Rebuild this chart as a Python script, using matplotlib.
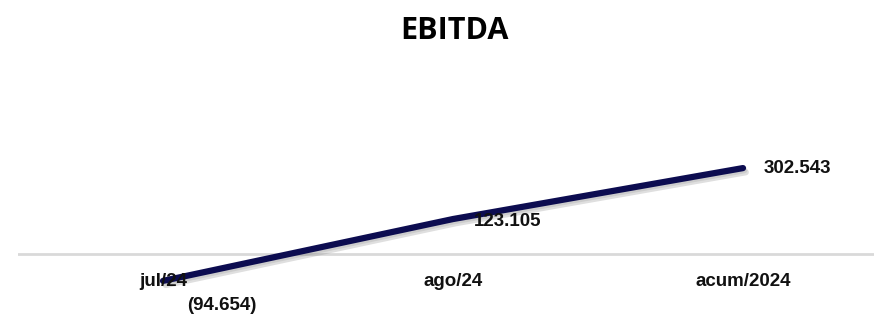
import matplotlib
matplotlib.use("Agg")
import matplotlib.pyplot as plt
import matplotlib.patheffects as pe

categories = ["jul/24", "ago/24", "acum/2024"]
values = [-94654, 123105, 302543]
title = "EBITDA"

def fmt(v):
    s = f"{abs(v):,}".replace(",", ".")
    return f"({s})" if v < 0 else s

W, H = 874, 315
fig = plt.figure(figsize=(W / 100, H / 100), dpi=100)
fig.patch.set_facecolor("white")

# axes: x from 18px to 888px, y zero at 61px from bottom
ax = fig.add_axes([18 / W, 18.4 / H, 870 / W, 170.4 / H])
ax.set_xlim(-0.5, 2.5)
ax.set_ylim(-150000, 450000)
ax.axis("off")

ax.axhline(0, color="#D9D9D9", lw=2, zorder=1)

x = list(range(len(categories)))
ax.plot(x, values, color="#0C0C50", lw=4.5, solid_capstyle="round", zorder=3,
        path_effects=[pe.SimpleLineShadow(offset=(2, -3), shadow_color="gray", alpha=0.25),
                      pe.SimpleLineShadow(offset=(1, -1.5), shadow_color="gray", alpha=0.2),
                      pe.Normal()])

for i, c in enumerate(categories):
    ax.annotate(c, xy=(i, 0), xytext=(0, -19.5), textcoords="offset points",
                ha="center", va="center", fontsize=13.5, fontweight="bold",
                family="Liberation Sans", color="#111111")

label_offsets = [(42, -18), (39, -2), (39, 0)]
for i, v in enumerate(values):
    dx, dy = label_offsets[i]
    ax.annotate(fmt(v), xy=(i, v), xytext=(dx, dy), textcoords="offset points",
                ha="center", va="center", fontsize=13.5, fontweight="bold",
                family="Liberation Sans", color="#111111")

fig.text(454 / W, 1 - 31 / H, title, ha="center", va="center", fontsize=22,
         fontweight="bold", family="Open Sans", color="black")

fig.savefig("out.png", dpi=100)
